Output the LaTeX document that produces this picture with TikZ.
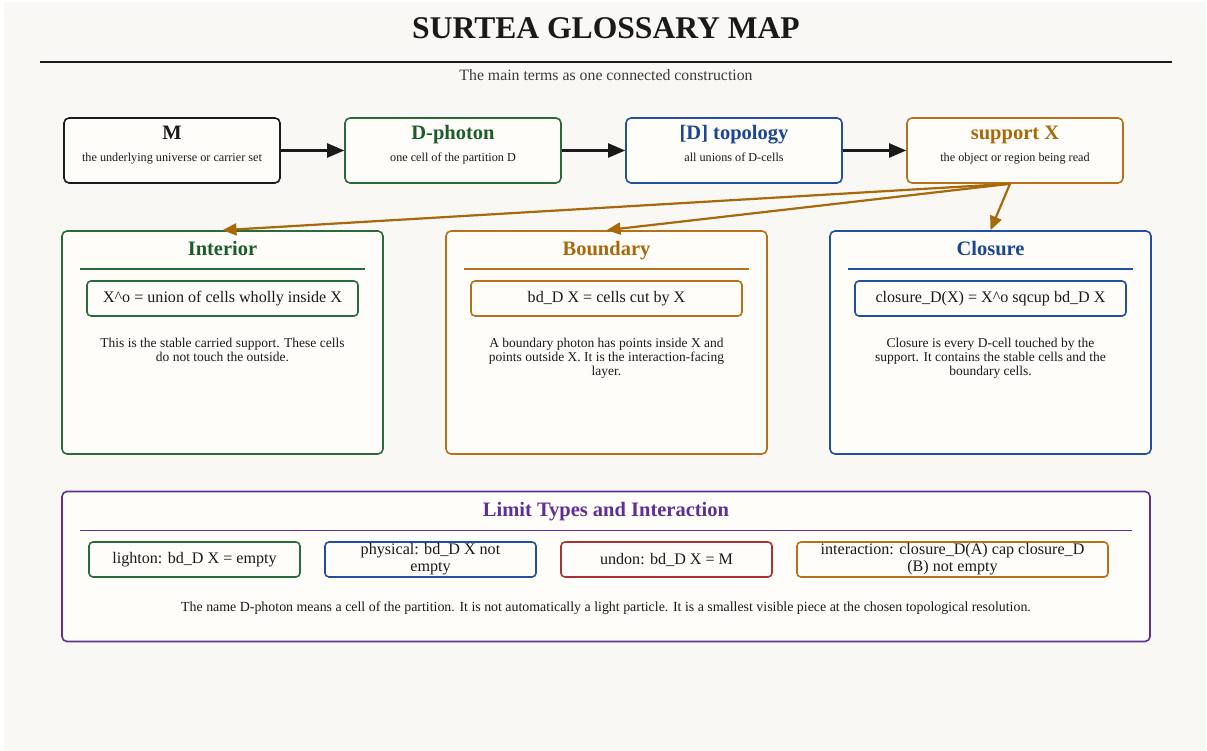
\documentclass[tikz,border=0pt]{standalone}
\usepackage{fontspec}
\setmainfont{Liberation Serif}
\usetikzlibrary{arrows.meta}
\definecolor{pagebg}{HTML}{F9F8F4}
\definecolor{cardbg}{HTML}{FFFDF9}
\definecolor{ink}{HTML}{1A1A1A}
\definecolor{gr}{HTML}{2B6B3B}
\definecolor{grt}{HTML}{1B5E2B}
\definecolor{bl}{HTML}{2150A0}
\definecolor{blt}{HTML}{1A4694}
\definecolor{orr}{HTML}{B3731A}
\definecolor{ort}{HTML}{A8690A}
\definecolor{pu}{HTML}{5E2F94}
\definecolor{rd}{HTML}{A83333}
\definecolor{grayone}{HTML}{3A3A3A}
\newcommand{\fsz}[2]{\fontsize{#1pt}{#2pt}\selectfont}
\begin{document}
\begin{tikzpicture}[x=1pt,y=-1pt,
  card/.style={draw=#1, line width=1.6pt, rounded corners=5pt, fill=cardbg, inner sep=0pt},
  topcard/.style={card=#1, minimum width=216pt, minimum height=65pt},
  bigcard/.style={card=#1, minimum width=321pt, minimum height=223pt},
  chip/.style={card=#1, minimum height=35pt, rounded corners=4pt, align=center, font=\fsz{16.1}{17}, text=ink},
  ttl/.style={font=\fsz{20.5}{24}\bfseries, anchor=base, inner sep=0pt},
  subt/.style={font=\fsz{12.2}{14}, text=ink, anchor=base, inner sep=0pt},
  desc/.style={font=\fsz{13.5}{14}, text=ink, align=center, anchor=base, inner sep=0pt},
  hrule/.style={line width=1.6pt},
  blackarrow/.style={line width=2.2pt, draw=ink, -{Triangle[length=17pt,width=14pt]}},
  orarrow/.style={line width=2.2pt, draw=ort, -{Triangle[length=14pt,width=12pt]}},
]
\fill[white] (0,0) rectangle (1207,751);
\fill[pagebg] (4,2) rectangle (1205,751);
\useasboundingbox (0,0) rectangle (1207,751);

% header
\node[font=\fsz{31.6}{36}\bfseries, text=ink, anchor=base, inner sep=0pt] (title) at (606,38.3) {SURTEA GLOSSARY MAP};
\coordinate (rl) at (40,62.3);
\coordinate (rr) at (1172,62.3);
\draw[line width=2pt, ink] (rl) -- (rr);
\node[font=\fsz{15.8}{18}, text=grayone, anchor=base, inner sep=0pt] (sub) at (606,80.5) {The main terms as one connected construction};

% top row
\node[topcard=ink] (m) at (172,150.5) {};
\node[ttl, text=ink] (mt) at (172,139.5) {M};
\node[subt] (ms) at (172,162) {the underlying universe or carrier set};

\node[topcard=gr] (dp) at (453,150.5) {};
\node[ttl, text=grt] (dpt) at (453,139.5) {D-photon};
\node[subt] (dps) at (453,162) {one cell of the partition D};

\node[topcard=bl] (tp) at (734,150.5) {};
\node[ttl, text=blt] (tpt) at (734,139.5) {[D] topology};
\node[subt] (tps) at (734,162) {all unions of D-cells};

\node[topcard=orr] (sx) at (1015,150.5) {};
\node[ttl, text=ort] (sxt) at (1015,139.5) {support X};
\node[subt] (sxs) at (1015,162) {the object or region being read};

\draw[blackarrow] (m.east) -- (dp.west);
\draw[blackarrow] (dp.east) -- (tp.west);
\draw[blackarrow] (tp.east) -- (sx.west);

% second row
\node[bigcard=gr] (int) at (222.5,342.5) {};
\node[ttl, text=grt] (intt) at (222.5,255.7) {Interior};
\draw[hrule, gr] (80,269.3) -- (365,269.3);
\node[chip=gr, minimum width=271pt] (intf) at (222.5,298.5) {X\textasciicircum o = union of cells wholly inside X};
\node[desc] (intd) at (222.5,361.7) {This is the stable carried support. These cells\\do not touch the outside.};

\node[bigcard=orr] (bd) at (606.5,342.5) {};
\node[ttl, text=ort] (bdt) at (606.5,255.7) {Boundary};
\draw[hrule, orr] (464,269.3) -- (749,269.3);
\node[chip=orr, minimum width=271pt] (bdf) at (606.5,298.5) {bd\_D X = cells cut by X};
\node[desc] (bdd) at (606.5,375.7) {A boundary photon has points inside X and\\points outside X. It is the interaction-facing\\layer.};

\node[bigcard=bl] (cl) at (990.5,342.5) {};
\node[ttl, text=blt] (clt) at (990.5,255.7) {Closure};
\draw[hrule, bl] (848,269.3) -- (1133,269.3);
\node[chip=bl, minimum width=271pt] (clf) at (990.5,298.5) {closure\_D(X) = X\textasciicircum o sqcup bd\_D X};
\node[desc] (cld) at (990.5,375.7) {Closure is every D-cell touched by the\\support. It contains the stable cells and the\\boundary cells.};

\coordinate (sxo) at ([xshift=-5pt]sx.south);
\draw[orarrow] (sxo) -- (int.north);
\draw[orarrow] (sxo) -- (bd.north);
\draw[orarrow] (sxo) -- (cl.north);

% limit types
\node[card=pu, minimum width=1088pt, minimum height=150pt] (lim) at (606,566.5) {};
\node[ttl, text=pu] (limt) at (606,516.7) {Limit Types and Interaction};
\draw[hrule, pu] (80,530.3) -- (1132,530.3);
\node[chip=gr, minimum width=211pt] (c1) at (194.5,559.5) {lighton: bd\_D X = empty};
\node[chip=bl, minimum width=211pt] (c2) at (430.5,559.5) {physical: bd\_D X not\\empty};
\node[chip=rd, minimum width=211pt] (c3) at (666.5,559.5) {undon: bd\_D X = M};
\node[chip=orr, minimum width=311pt] (c4) at (952.5,559.5) {interaction: closure\_D(A) cap closure\_D\\(B) not empty};
\node[desc, font=\fsz{13.9}{14}] (note) at (606,611) {The name D-photon means a cell of the partition. It is not automatically a light particle. It is a smallest visible piece at the chosen topological resolution.};
\end{tikzpicture}
\end{document}
